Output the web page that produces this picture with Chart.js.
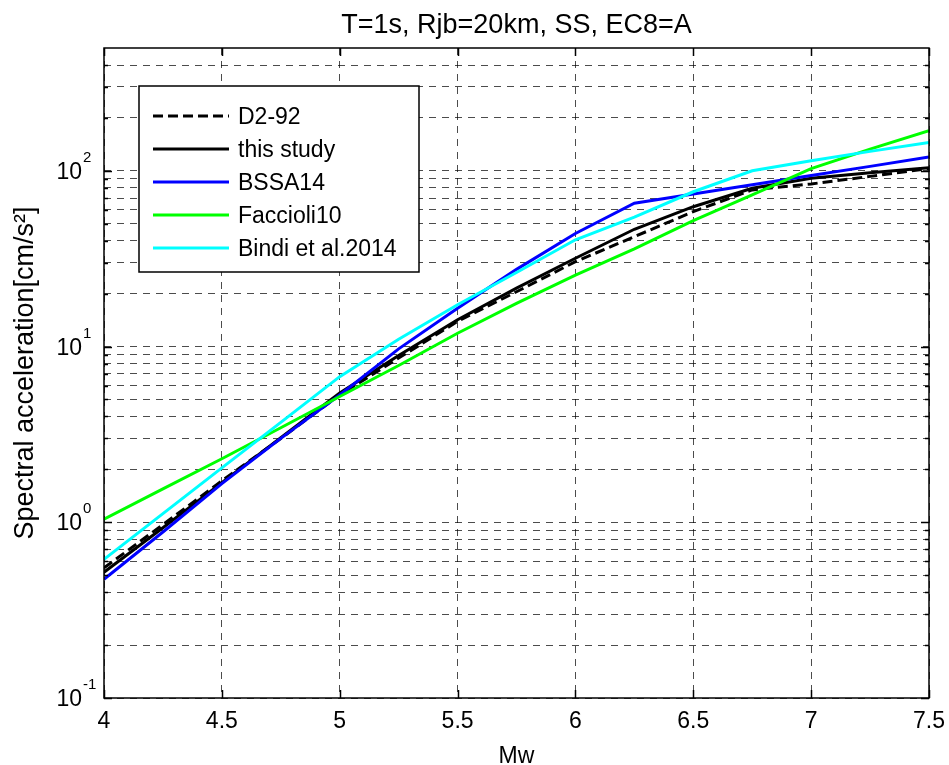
<!DOCTYPE html>
<html>
<head>
<meta charset="utf-8">
<script src="https://cdn.jsdelivr.net/npm/chart.js@4.4.1/dist/chart.umd.min.js"></script>
<style>
html, body { margin: 0; padding: 0; background: #fff; }
#wrap { width: 949px; height: 765px; }
</style>
</head>
<body>
<div id="wrap"><canvas id="saChart" width="949" height="765"></canvas></div>
<script>
// magnitudes (Mw) at which the curves are sampled
const magnitudes = [4, 4.25, 4.5, 4.75, 5, 5.25, 5.5, 5.75, 6, 6.25, 6.5, 6.75, 7, 7.25, 7.5];

// spectral acceleration, cm/s^2
const d292       = [0.55, 0.97, 1.72, 3.0, 5.3, 8.6, 13.9, 20.5, 30.4, 42.2, 58.6, 77.9, 84.2, 93, 103];
const thisStudy  = [0.52, 0.93, 1.68, 3.03, 5.45, 8.9, 14.2, 21.5, 31.8, 46.5, 62.5, 79.6, 90.7, 97.5, 104];
const bssa14     = [0.474, 0.88, 1.66, 3.0, 5.3, 9.7, 16.5, 27.5, 44, 65.4, 73.8, 83.4, 94, 106, 120];
const faccioli10 = [1.04, 1.55, 2.3, 3.45, 5.2, 7.8, 11.9, 17.6, 25.5, 36, 52, 73, 103, 133, 169];
const bindi2014  = [0.615, 1.12, 2.04, 3.7, 6.74, 11, 17.3, 26.4, 40.5, 54.5, 76, 100, 114, 129, 145];

const xTicks = [4, 4.5, 5, 5.5, 6, 6.5, 7, 7.5];
const yGrid = [0.1, 0.2, 0.3, 0.4, 0.5, 0.6, 0.7, 0.8, 0.9,
               1, 2, 3, 4, 5, 6, 7, 8, 9,
               10, 20, 30, 40, 50, 60, 70, 80, 90,
               100, 200, 300, 400];
const yDecades = [-1, 0, 1, 2];

const FONT = '"Liberation Sans", Arial, Helvetica, sans-serif';

function series(label, values, color, dash, order) {
  return {
    label: label,
    data: magnitudes.map((m, i) => ({x: m, y: values[i]})),
    borderColor: color,
    backgroundColor: color,
    borderWidth: 3,
    borderDash: dash,
    pointRadius: 0,
    tension: 0,
    fill: false,
    order: order
  };
}

const datasets = [
  series('D2-92', d292, '#000000', [10, 5], 5),
  series('this study', thisStudy, '#000000', [], 4),
  series('BSSA14', bssa14, '#0000ff', [], 3),
  series('Faccioli10', faccioli10, '#00ff00', [], 2),
  series('Bindi et al.2014', bindi2014, '#00ffff', [], 1)
];

// frame, inward tick marks, labels and legend drawn the MATLAB way
const decorations = {
  id: 'decorations',
  afterDraw(chart) {
    const {ctx, chartArea: a, scales: {x, y}} = chart;
    ctx.save();
    ctx.setLineDash([]);
    ctx.strokeStyle = '#000';
    ctx.lineWidth = 1.5;

    // tick marks
    ctx.beginPath();
    xTicks.forEach(v => {
      const px = Math.round(x.getPixelForValue(v)) + 0.5;
      ctx.moveTo(px, a.bottom); ctx.lineTo(px, a.bottom - 8);
      ctx.moveTo(px, a.top); ctx.lineTo(px, a.top + 8);
    });
    yGrid.forEach(v => {
      const len = Number.isInteger(Math.log10(v)) ? 8 : 4;
      const py = Math.round(y.getPixelForValue(v)) + 0.5;
      ctx.moveTo(a.left, py); ctx.lineTo(a.left + len, py);
      ctx.moveTo(a.right, py); ctx.lineTo(a.right - len, py);
    });
    ctx.stroke();

    // box
    ctx.strokeRect(a.left, a.top, a.right - a.left, a.bottom - a.top);

    ctx.fillStyle = '#000';
    // x tick labels
    ctx.font = '23px ' + FONT;
    ctx.textAlign = 'center';
    ctx.textBaseline = 'alphabetic';
    xTicks.forEach(v => ctx.fillText(String(v), x.getPixelForValue(v), a.bottom + 30));

    // y tick labels 10^n
    yDecades.forEach(e => {
      const py = y.getPixelForValue(Math.pow(10, e));
      ctx.font = '23px ' + FONT;
      ctx.textAlign = 'right';
      ctx.fillText('10', 82, py + 8);
      ctx.font = '15px ' + FONT;
      ctx.textAlign = 'left';
      ctx.fillText(String(e), 83, py - 9);
    });

    // axis titles
    ctx.textAlign = 'center';
    ctx.font = '23px ' + FONT;
    ctx.fillText('Mw', (a.left + a.right) / 2, 763);
    ctx.font = '27px ' + FONT;
    ctx.fillText('T=1s, Rjb=20km, SS, EC8=A', (a.left + a.right) / 2, 33);
    ctx.save();
    ctx.translate(33, (a.top + a.bottom) / 2);
    ctx.rotate(-Math.PI / 2);
    ctx.fillText('Spectral acceleration[cm/s\u00b2]', 0, 0);
    ctx.restore();

    // legend
    const lx = 139, ly = 86, lw = 280, lh = 186;
    ctx.fillStyle = '#fff';
    ctx.fillRect(lx, ly, lw, lh);
    ctx.lineWidth = 1.5;
    ctx.strokeStyle = '#000';
    ctx.strokeRect(lx, ly, lw, lh);
    chart.data.datasets.forEach((ds, i) => {
      const cy = 116 + i * 33;
      ctx.beginPath();
      ctx.setLineDash(ds.borderDash);
      ctx.strokeStyle = ds.borderColor;
      ctx.lineWidth = ds.borderWidth;
      ctx.moveTo(153, cy); ctx.lineTo(229, cy);
      ctx.stroke();
      ctx.setLineDash([]);
      ctx.fillStyle = '#000';
      ctx.font = '23px ' + FONT;
      ctx.textAlign = 'left';
      ctx.fillText(ds.label, 238, cy + 8);
    });
    ctx.restore();
  }
};

const gridStyle = {
  color: 'rgba(0,0,0,0.7)',
  lineWidth: 1,
  drawTicks: false
};

new Chart(document.getElementById('saChart'), {
  type: 'line',
  data: {datasets: datasets},
  options: {
    responsive: false,
    animation: false,
    devicePixelRatio: 1,
    layout: {padding: {left: 104, top: 48, right: 20, bottom: 67}},
    plugins: {legend: {display: false}, tooltip: {enabled: false}, title: {display: false}},
    scales: {
      x: {
        type: 'linear',
        min: 4,
        max: 7.5,
        afterBuildTicks: s => { s.ticks = xTicks.map(v => ({value: v})); },
        ticks: {display: false},
        grid: gridStyle,
        border: {display: false, dash: [7, 6]}
      },
      y: {
        type: 'logarithmic',
        min: 0.1,
        max: 500,
        afterBuildTicks: s => { s.ticks = yGrid.map(v => ({value: v})); },
        ticks: {display: false},
        grid: gridStyle,
        border: {display: false, dash: [7, 6]}
      }
    }
  },
  plugins: [decorations]
});
</script>
</body>
</html>
